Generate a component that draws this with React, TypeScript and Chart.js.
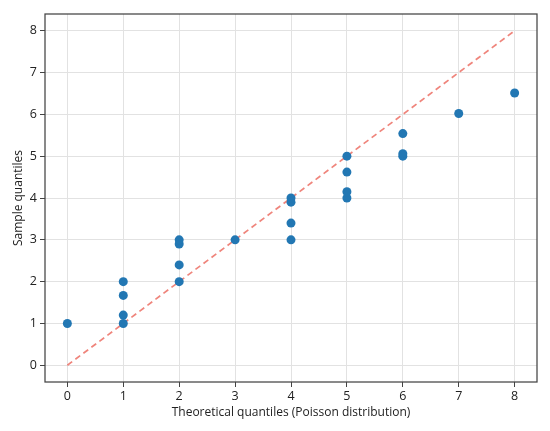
import React, { useEffect, useRef } from "react";
import { Chart, registerables } from "chart.js";

Chart.register(...registerables);

const theoretical = [0, 1, 1, 1, 1, 2, 2, 2, 2, 3, 4, 4, 4, 4, 5, 5, 5, 5, 6, 6, 6, 7, 8];
const sample = [1, 1, 1.2, 1.67, 2, 2, 2.4, 2.9, 3, 3, 3, 3.4, 3.9, 4, 4, 4.15, 4.62, 5, 5, 5.06, 5.54, 6.02, 6.51];
const refLineX = [0, 8];
const refLineY = [0, 8];
const tickValues = [0, 1, 2, 3, 4, 5, 6, 7, 8];
const xTitle = "Theoretical quantiles (Poisson distribution)";
const yTitle = "Sample quantiles";

const FONT = "'Open Sans', 'Noto Sans', sans-serif";

const framePlugin = {
  id: "frame",
  afterDraw(chart: any) {
    const { ctx, chartArea } = chart;
    ctx.save();
    ctx.strokeStyle = "#444";
    ctx.lineWidth = 1.25;
    ctx.strokeRect(chartArea.left, chartArea.top, chartArea.right - chartArea.left, chartArea.bottom - chartArea.top);
    ctx.restore();
  },
};

export default function App() {
  const ref = useRef<HTMLCanvasElement | null>(null);
  useEffect(() => {
    if (!ref.current) return;
    const setTicks = (scale: any) => {
      scale.ticks = tickValues.map((v) => ({ value: v }));
    };
    const chart = new Chart(ref.current, {
      type: "scatter",
      data: {
        datasets: [
          {
            type: "line",
            data: refLineX.map((x, i) => ({ x, y: refLineY[i] })),
            borderColor: "rgba(236, 110, 100, 0.85)",
            borderWidth: 1.7,
            borderDash: [6, 4],
            pointRadius: 0,
            fill: false,
            order: 2,
          } as any,
          {
            data: theoretical.map((x, i) => ({ x, y: sample[i] })),
            backgroundColor: "#2277b3",
            borderColor: "#2277b3",
            pointRadius: 4.5,
            borderWidth: 0,
            order: 1,
          },
        ],
      },
      options: {
        animation: false,
        responsive: false,
        maintainAspectRatio: false,
        layout: { padding: { top: 14, right: 13, left: 0, bottom: 0 } },
        plugins: { legend: { display: false }, tooltip: { enabled: false } },
        scales: {
          x: {
            type: "linear",
            min: -0.4,
            max: 8.4,
            afterBuildTicks: setTicks,
            afterFit: (s: any) => {
              s.height = 49;
            },
            grid: { color: "#e2e2e2", tickColor: "#444", tickLength: 5, lineWidth: 1 },
            border: { display: false },
            ticks: { color: "#222", font: { family: FONT, size: 12.5 }, padding: 2 },
            title: { display: true, text: xTitle, color: "#222", font: { family: FONT, size: 12 }, padding: { top: 2, bottom: 11 } },
          },
          y: {
            type: "linear",
            min: -0.4,
            max: 8.4,
            afterBuildTicks: setTicks,
            afterFit: (s: any) => {
              s.width = 45;
            },
            grid: { color: "#e2e2e2", tickColor: "#444", tickLength: 5, lineWidth: 1 },
            border: { display: false },
            ticks: { color: "#222", font: { family: FONT, size: 12.5 }, padding: 3 },
            title: { display: true, text: yTitle, color: "#222", font: { family: FONT, size: 12 }, padding: { top: 11, bottom: 0 } },
          },
        },
      },
      plugins: [framePlugin],
    });
    return () => chart.destroy();
  }, []);
  return (
    <div style={{ position: "fixed", left: 0, top: 0, width: 550, height: 431, background: "#fff" }}>
      <canvas ref={ref} width={550} height={431} style={{ width: 550, height: 431 }} />
    </div>
  );
}
